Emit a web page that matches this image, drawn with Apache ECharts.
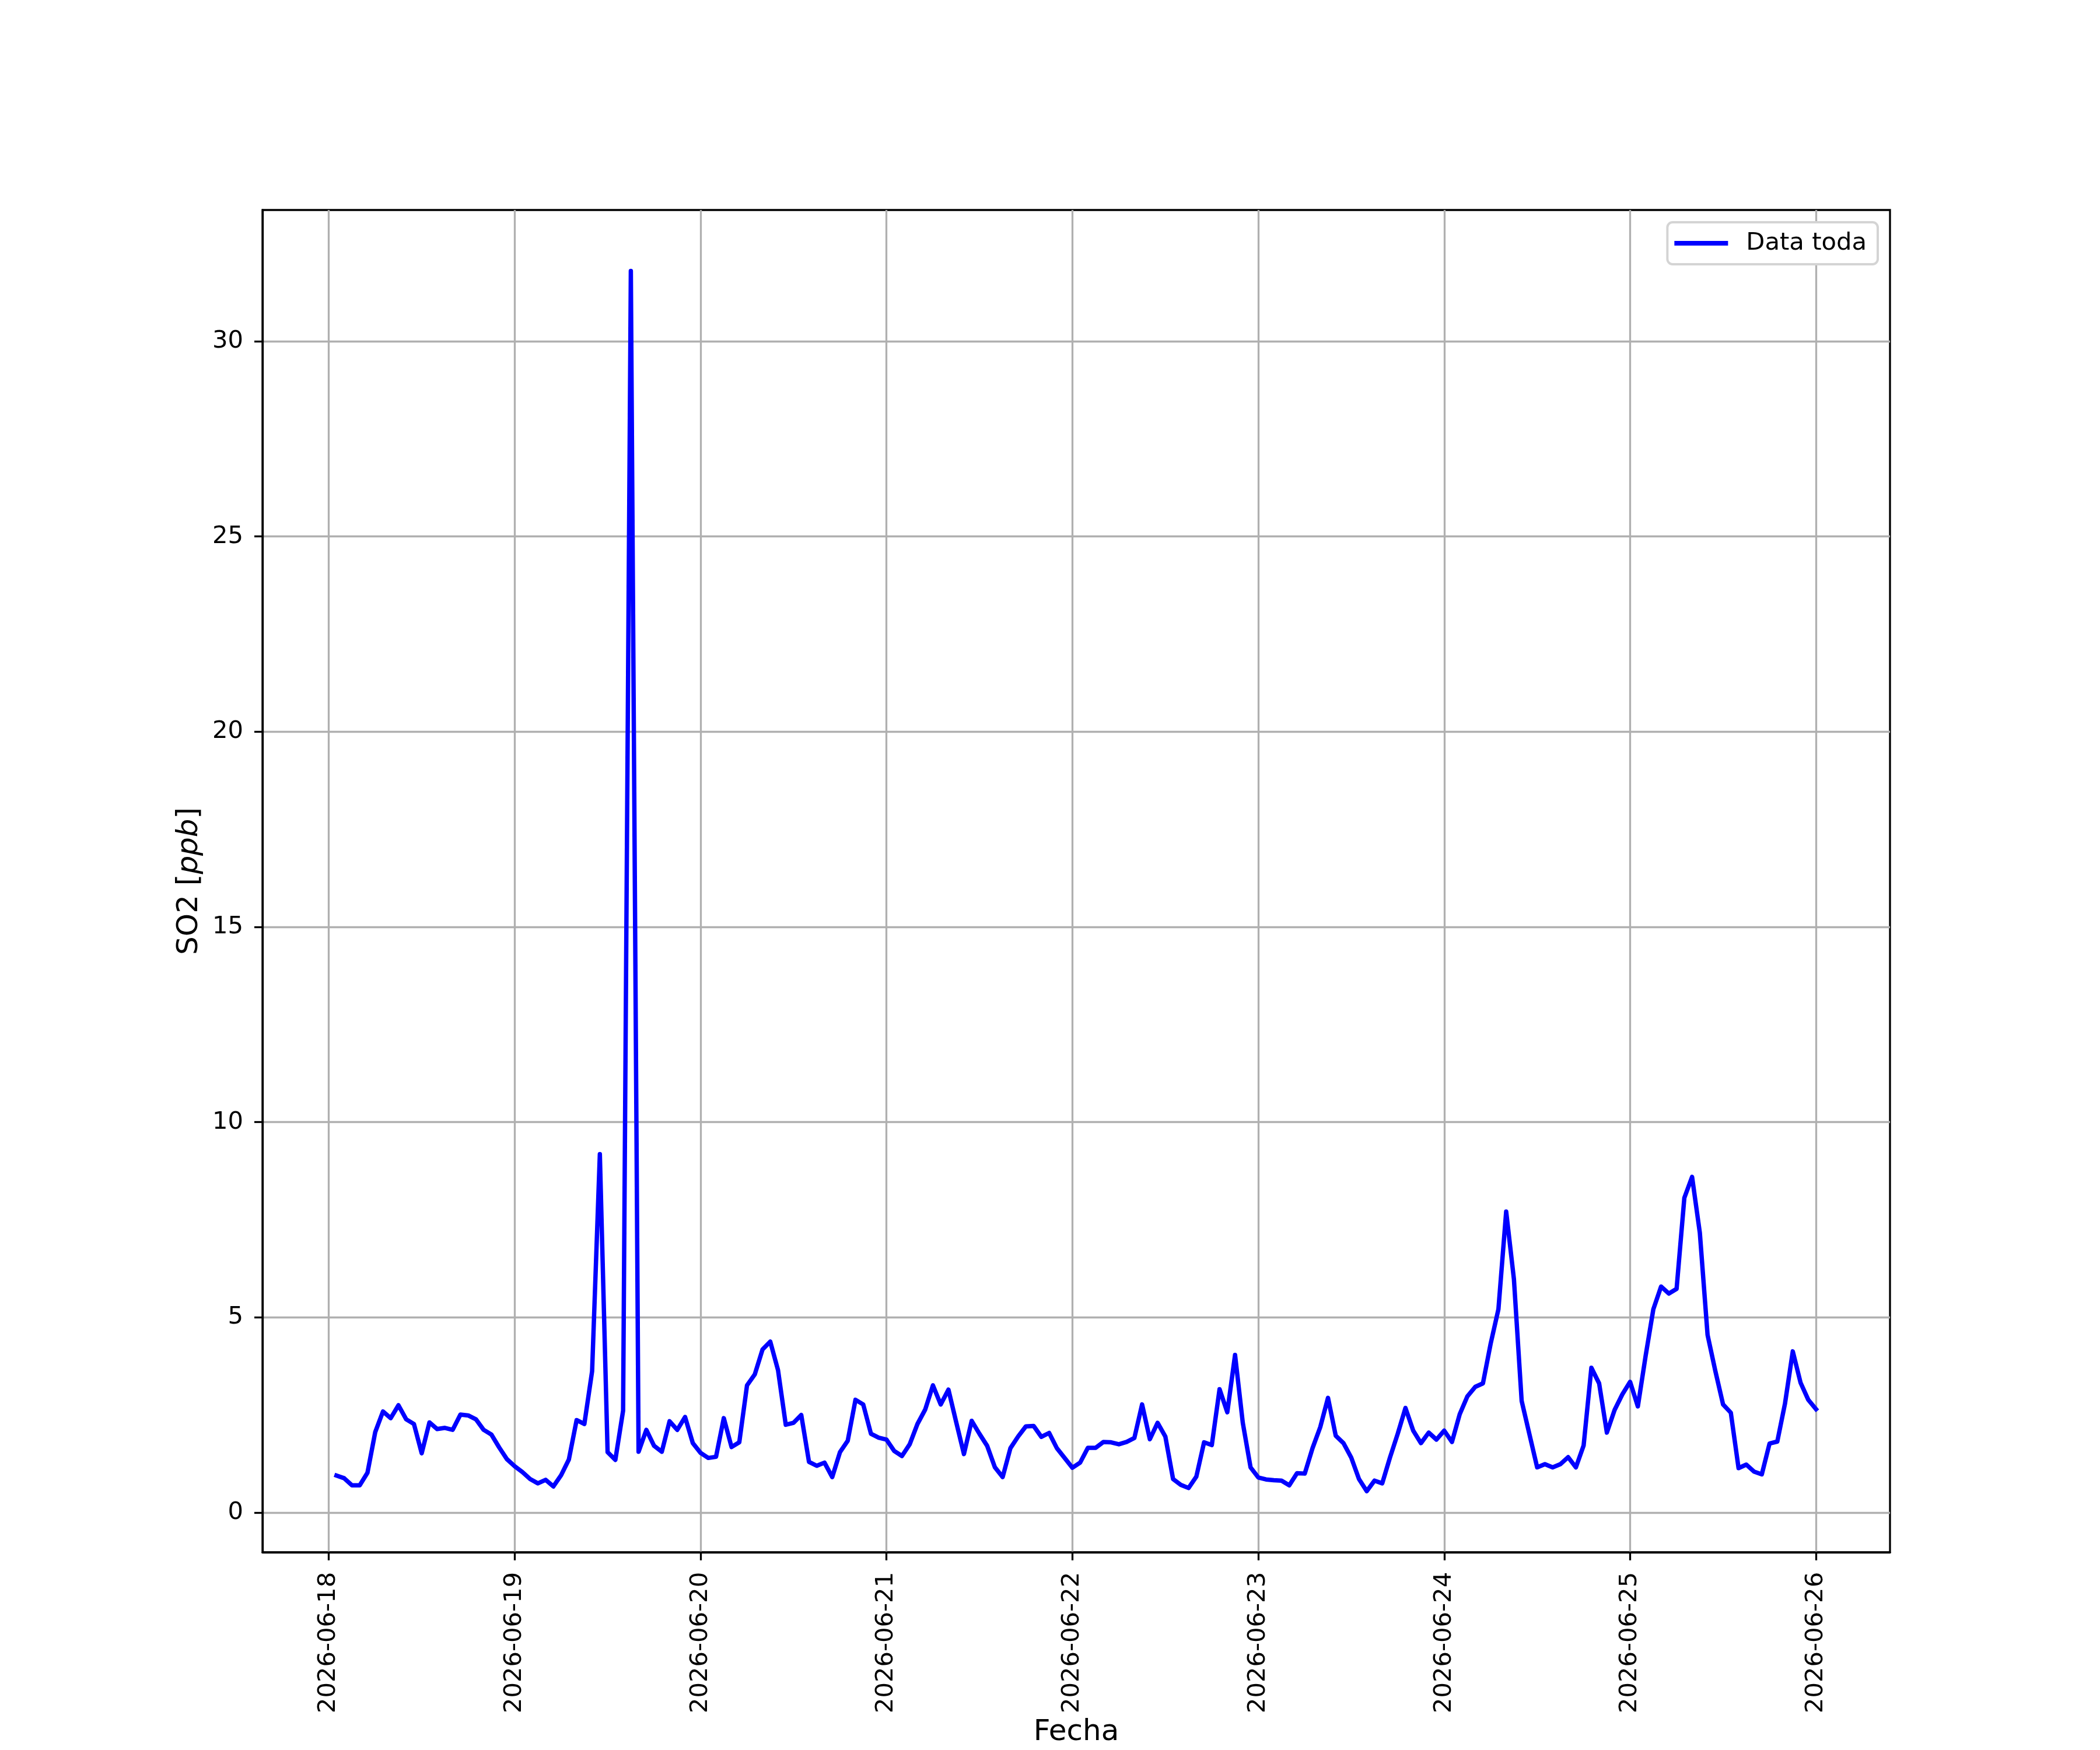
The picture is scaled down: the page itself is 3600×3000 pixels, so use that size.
<!DOCTYPE html>
<html>
<head>
<meta charset="utf-8">
<script src="https://cdn.jsdelivr.net/npm/echarts@6/dist/echarts.min.js"></script>
<style>
html,body{margin:0;padding:0;background:#ffffff;}
#chart{width:3600px;height:3000px;}
</style>
</head>
<body>
<div id="chart"></div>
<script>
// ---- data (hourly SO2 readings, starting 2026-06-18 01:00) ----
const startTimeUTC = Date.UTC(2026, 5, 18, 1, 0, 0);
const stepMs = 3600 * 1000;
const seriesName = 'Data toda';

const so2_0618 = [0.95, 0.88, 0.70, 0.70, 1.02, 2.06, 2.59, 2.42, 2.75, 2.39, 2.27, 1.52, 2.31, 2.14, 2.17, 2.12, 2.51, 2.49, 2.39, 2.12, 2.00, 1.67, 1.37];
const so2_0619 = [1.19, 1.04, 0.86, 0.75, 0.84, 0.67, 0.96, 1.36, 2.37, 2.27, 3.62, 9.18, 1.55, 1.35, 2.61, 31.8, 1.56, 2.12, 1.71, 1.56, 2.34, 2.12, 2.45, 1.78];
const so2_0620 = [1.53, 1.40, 1.43, 2.42, 1.68, 1.80, 3.26, 3.54, 4.18, 4.38, 3.65, 2.25, 2.30, 2.50, 1.30, 1.20, 1.28, 0.91, 1.55, 1.84, 2.89, 2.77, 2.02, 1.92];
const so2_0621 = [1.87, 1.58, 1.45, 1.75, 2.27, 2.64, 3.26, 2.77, 3.15, 2.32, 1.50, 2.35, 2.02, 1.71, 1.16, 0.91, 1.65, 1.95, 2.21, 2.22, 1.94, 2.04, 1.65, 1.40];
const so2_0622 = [1.15, 1.28, 1.66, 1.66, 1.81, 1.80, 1.75, 1.81, 1.91, 2.77, 1.88, 2.30, 1.95, 0.86, 0.71, 0.63, 0.92, 1.80, 1.73, 3.16, 2.57, 4.04, 2.30, 1.16];
const so2_0623 = [0.90, 0.85, 0.83, 0.82, 0.70, 1.01, 1.00, 1.65, 2.19, 2.94, 1.97, 1.78, 1.41, 0.86, 0.55, 0.82, 0.75, 1.41, 2.02, 2.68, 2.10, 1.78, 2.05, 1.87];
const so2_0624 = [2.10, 1.81, 2.52, 2.98, 3.22, 3.31, 4.33, 5.21, 7.71, 5.98, 2.86, 2.01, 1.16, 1.24, 1.16, 1.24, 1.42, 1.16, 1.72, 3.71, 3.31, 2.05, 2.63, 3.03];
const so2_0625 = [3.35, 2.72, 4.01, 5.21, 5.79, 5.61, 5.73, 8.06, 8.60, 7.17, 4.55, 3.63, 2.77, 2.56, 1.14, 1.23, 1.05, 0.98, 1.77, 1.82, 2.80, 4.13, 3.33, 2.89];
const so2_0626 = [2.65];

const xTickLabels = ['2026-06-18', '2026-06-19', '2026-06-20', '2026-06-21', '2026-06-22', '2026-06-23', '2026-06-24', '2026-06-25', '2026-06-26'];
const yTickValues = [0, 5, 10, 15, 20, 25, 30];

const xAxisTitle = 'Fecha';
const yAxisTitle = '{n|SO2 [}{i|ppb}{n|]}';

// ---- build ----
const values = [].concat(so2_0618, so2_0619, so2_0620, so2_0621, so2_0622, so2_0623, so2_0624, so2_0625, so2_0626);
const points = values.map((v, i) => [startTimeUTC + i * stepMs, v]);

const tFirst = points[0][0], tLast = points[points.length - 1][0];
const tPad = (tLast - tFirst) * 0.05;
const vMin = Math.min.apply(null, values), vMax = Math.max.apply(null, values);
const vPad = (vMax - vMin) * 0.05;

const xTickValues = xTickLabels.map(s => Date.parse(s + 'T00:00:00Z'));

const FONT = 'DejaVu Sans';
const LW = 3.3;

const chart = echarts.init(document.getElementById('chart'), null, {renderer: 'canvas', width: 3600, height: 3000});

chart.setOption({
  animation: false,
  backgroundColor: '#ffffff',
  grid: {
    left: 450, right: 360, top: 360, bottom: 330,
    show: true, borderColor: '#000000', borderWidth: LW, backgroundColor: 'transparent'
  },
  legend: {
    right: 381, top: 381,
    orient: 'vertical',
    padding: [15, 19, 15, 12],
    backgroundColor: '#ffffff',
    borderColor: '#d4d4d4', borderWidth: 4, borderRadius: 9,
    icon: 'rect', itemWidth: 92, itemHeight: 8,
    textStyle: {fontFamily: FONT, fontSize: 41.7, color: '#000000', padding: [0, 0, 0, 26]},
    data: [seriesName]
  },
  xAxis: {
    type: 'value',
    min: tFirst - tPad, max: tLast + tPad,
    name: xAxisTitle,
    nameLocation: 'middle',
    nameGap: 283,
    nameTextStyle: {fontFamily: FONT, fontSize: 50, color: '#000000'},
    axisLine: {show: true, onZero: false, lineStyle: {color: '#000000', width: LW}},
    axisTick: {show: true, inside: false, length: 14, lineStyle: {color: '#000000', width: LW}, customValues: xTickValues},
    axisLabel: {
      show: true, rotate: 90, margin: 34,
      fontFamily: FONT, fontSize: 41.7, color: '#000000',
      customValues: xTickValues,
      formatter: v => new Date(v).toISOString().slice(0, 10)
    },
    splitLine: {show: true, lineStyle: {color: '#b0b0b0', width: LW}}
  },
  yAxis: {
    type: 'value',
    min: vMin - vPad, max: vMax + vPad,
    name: yAxisTitle,
    nameLocation: 'middle',
    nameGap: 100,
    nameRotate: 90,
    nameTextStyle: {
      rich: {
        n: {fontFamily: FONT, fontSize: 50, color: '#000000'},
        i: {fontFamily: FONT, fontSize: 50, fontStyle: 'italic', color: '#000000'}
      }
    },
    axisLine: {show: true, onZero: false, lineStyle: {color: '#000000', width: LW}},
    axisTick: {show: true, inside: false, length: 14, lineStyle: {color: '#000000', width: LW}, customValues: yTickValues},
    axisLabel: {show: true, margin: 33, fontFamily: FONT, fontSize: 41.7, color: '#000000', customValues: yTickValues},
    splitLine: {show: true, lineStyle: {color: '#b0b0b0', width: LW}}
  },
  series: [{
    name: seriesName,
    type: 'line',
    data: points,
    showSymbol: false,
    symbol: 'none',
    color: '#0000ff',
    lineStyle: {color: '#0000ff', width: 7.5, join: 'round', cap: 'square'},
    z: 3
  }]
});
</script>
</body>
</html>
